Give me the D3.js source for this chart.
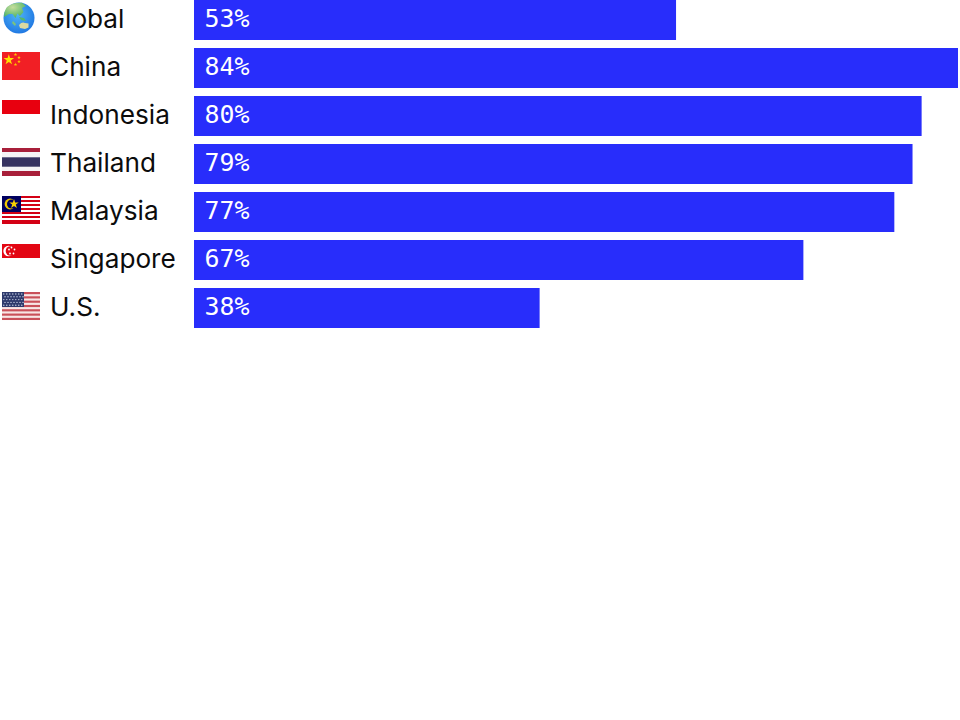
<!DOCTYPE html>
<html><head><meta charset="utf-8">
<script src="https://cdn.jsdelivr.net/npm/d3@7"></script>
<style>html,body{margin:0;padding:0;background:#fff}svg{display:block}</style>
</head><body><svg id="c" width="960" height="720"></svg>
<script>
const categories=["Global","China","Indonesia","Thailand","Malaysia","Singapore","U.S."];
const values=[53,84,80,79,77,67,38];
const flagKeys=["globe","cn","id","th","my","sg","us"];

const svg=d3.select("#c");
const x=d3.scaleLinear().domain([0,84]).range([194,958]);
const y=d3.scaleBand().domain(categories).range([0,336]).padding(0);
const rows=svg.selectAll("g.row").data(categories).join("g").attr("class","row");
rows.append("rect").attr("x",x(0)).attr("y",d=>y(d)).attr("height",40)
  .attr("width",(d,i)=>x(values[i])-x(0)).attr("fill","#282dfb");
rows.append("text").attr("x",x(0)+10.5).attr("y",d=>y(d)+26.5)
  .attr("font-family","'DejaVu Sans Mono'").attr("font-size",24.9).attr("fill","#fff")
  .text((d,i)=>values[i]+"%");
rows.append("text").attr("x",(d,i)=>i==0?45.5:50).attr("y",d=>y(d)+28)
  .attr("font-family","Inter").attr("font-weight",400).attr("font-size",26.2).attr("fill","#0c0c0c")
  .text(d=>d);

const defs=svg.append("defs");
const gg=defs.append("radialGradient").attr("id","ocean").attr("cx","45%").attr("cy","40%").attr("r","70%");
gg.append("stop").attr("offset","0%").attr("stop-color","#4fb4f6");
gg.append("stop").attr("offset","100%").attr("stop-color","#1a70e0");
const land=defs.append("radialGradient").attr("id","land").attr("cx","40%").attr("cy","30%").attr("r","75%");
land.append("stop").attr("offset","0%").attr("stop-color","#c4dd9c");
land.append("stop").attr("offset","100%").attr("stop-color","#45b060");

function R(g,a,b,w,h,f){g.append("rect").attr("x",a).attr("y",b).attr("width",w).attr("height",h).attr("fill",f);}
const star=(g,cx,cy,r,f)=>g.append("path").attr("transform",`translate(${cx},${cy})`).attr("fill",f)
  .attr("d",d3.symbol(d3.symbolStar,r*r*2.4)());
const draw={
 globe(g){
  g.append("circle").attr("cx",19).attr("cy",18).attr("r",15.5).attr("fill","url(#ocean)");
  g.append("path").attr("fill","url(#land)").attr("d","M7 7Q13 2 22 2.8L26 6L22 8L23.5 12L20 16L17.5 13.5L15.5 18L12.5 14L9 14L4 17Q4 11 7 7Z");
  g.append("path").attr("fill","#55b86c").attr("d","M19 17L24 18L26 21L21 20Z");
  g.append("path").attr("fill","#dcd9a0").attr("d","M19 25Q22 21.5 25 23L28.5 23.5L28.5 27.5L25 29L20 28Z");
  g.append("path").attr("fill","#7cc47a").attr("d","M13 21L16 24L15 26L12 23Z");
 },
 cn(g){R(g,2,0,38,28,"#f11f25");star(g,8.8,7.8,3.8,"#ffe000");[[15.5,2.5],[19,5.5],[19,9.5],[15.5,12.5]].forEach(p=>star(g,p[0],p[1],1.3,"#ffc800"));},
 id(g){R(g,2,0,38,14,"#e8000f");},
 th(g){R(g,2,0,38,28,"#a81f3a");R(g,2,4,38,19,"#f5f3f5");R(g,2,9.3,38,9.4,"#363260");},
 my(g){R(g,2,0,38,28,"#fff");for(let k=0;k<7;k++)R(g,2,k*4,38,2,"#d40015");R(g,2,26,38,2,"#d40015");R(g,2,0,19,16,"#00005f");
  g.append("circle").attr("cx",10).attr("cy",8).attr("r",5.4).attr("fill","#f0c800");g.append("circle").attr("cx",11.6).attr("cy",8).attr("r",4.6).attr("fill","#00005f");star(g,14,8,3.4,"#f8d000");},
 sg(g){R(g,2,0,38,14,"#e30613");g.append("circle").attr("cx",8.5).attr("cy",7).attr("r",5.2).attr("fill","#fff");g.append("circle").attr("cx",10.5).attr("cy",7).attr("r",4.8).attr("fill","#e30613");
  [[11.5,3.5],[14.5,5.5],[13.5,9.5],[10,9.5],[9,5.5]].forEach(p=>g.append("circle").attr("cx",p[0]).attr("cy",p[1]).attr("r",.9).attr("fill","#fff"));},
 us(g){R(g,2,0,38,28,"#f7e6e6");for(let k=0;k<7;k++)R(g,2,k*4.31,38,2.15,"#c9505a");R(g,2,0,22,15,"#2e3a6c");
  for(let r=0;r<5;r++)for(let c=0;c<7;c++)g.append("circle").attr("cx",3.8+c*3+(r%2)*1.2).attr("cy",2+r*2.8).attr("r",.7).attr("fill","#c9d2e6");},
};
rows.each(function(d,i){const g=d3.select(this).append("g");
 const key=flagKeys[i];
 if(key!="globe")g.attr("transform",`translate(0,${y(d)+4})`);
 draw[key](g);});
</script></body></html>
